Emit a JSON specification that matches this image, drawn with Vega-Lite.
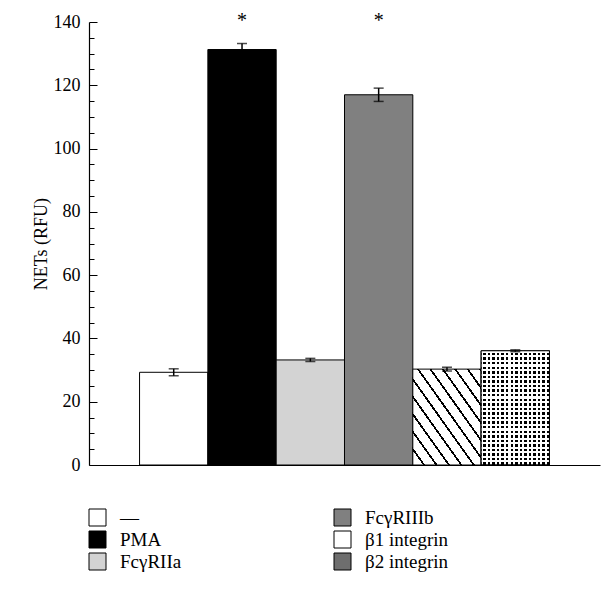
{
  "$schema": "https://vega.github.io/schema/vega-lite/v6.json",
  "autosize": "none",
  "width": 511,
  "height": 443,
  "padding": {"left": 89, "top": 22, "right": 15, "bottom": 131},
  "config": {
    "view": {"stroke": null},
    "font": "Liberation Serif",
    "axis": {"labelFont": "Liberation Serif", "titleFont": "Liberation Serif", "domainColor": "#000000", "tickColor": "#000000", "labelColor": "#000000", "titleColor": "#000000"},
    "legend": {"labelFont": "Liberation Serif", "labelColor": "#000000"}
  },
  "data": {
    "values": [
      {"group": "—", "value": 29.3, "lo": 28.2, "hi": 30.4, "sig": ""},
      {"group": "PMA", "value": 131.3, "lo": 129.4, "hi": 133.2, "sig": "*"},
      {"group": "FcγRIIa", "value": 33.2, "lo": 32.7, "hi": 33.7, "sig": ""},
      {"group": "FcγRIIIb", "value": 117.0, "lo": 114.9, "hi": 119.1, "sig": "*"},
      {"group": "β1 integrin", "value": 30.3, "lo": 29.7, "hi": 30.9, "sig": ""},
      {"group": "β2 integrin", "value": 36.1, "lo": 35.8, "hi": 36.4, "sig": ""}
    ]
  },
  "encoding": {
    "x": {
      "field": "group",
      "type": "nominal",
      "sort": ["—", "PMA", "FcγRIIa", "FcγRIIIb", "β1 integrin", "β2 integrin"],
      "scale": {"paddingInner": 0, "paddingOuter": 0.74},
      "axis": {"title": null, "labels": false, "ticks": false, "domainWidth": 1.2}
    }
  },
  "resolve": {"axis": {"y": "independent"}},
  "layer": [
    {
      "mark": {"type": "bar", "stroke": "#000000", "strokeWidth": 1},
      "encoding": {
        "y": {
          "field": "value",
          "type": "quantitative",
          "scale": {"domain": [0, 140], "nice": false},
          "axis": {
            "orient": "left",
            "title": "NETs (RFU)",
            "titleFontSize": 18,
            "titleFontWeight": "normal",
            "titlePadding": 3,
            "grid": false,
            "values": [0, 20, 40, 60, 80, 100, 120, 140],
            "labelFontSize": 18,
            "labelPadding": 17,
            "tickSize": -8,
            "tickWidth": 1,
            "domainWidth": 1.2
          }
        },
        "fill": {
          "condition": [
            {"test": "datum.group === 'β1 integrin'", "value": {"gradient": "linear", "x1": 0, "y1": 1, "x2": 1, "y2": 0, "stops": [
                {"offset": 0, "color": "#ffffff"}, {"offset": 0.075, "color": "#ffffff"}, {"offset": 0.075, "color": "#000000"}, {"offset": 0.0909, "color": "#000000"},
                {"offset": 0.0909, "color": "#ffffff"}, {"offset": 0.1659, "color": "#ffffff"}, {"offset": 0.1659, "color": "#000000"}, {"offset": 0.1818, "color": "#000000"},
                {"offset": 0.1818, "color": "#ffffff"}, {"offset": 0.2568, "color": "#ffffff"}, {"offset": 0.2568, "color": "#000000"}, {"offset": 0.2727, "color": "#000000"},
                {"offset": 0.2727, "color": "#ffffff"}, {"offset": 0.3477, "color": "#ffffff"}, {"offset": 0.3477, "color": "#000000"}, {"offset": 0.3636, "color": "#000000"},
                {"offset": 0.3636, "color": "#ffffff"}, {"offset": 0.4386, "color": "#ffffff"}, {"offset": 0.4386, "color": "#000000"}, {"offset": 0.4545, "color": "#000000"},
                {"offset": 0.4545, "color": "#ffffff"}, {"offset": 0.5295, "color": "#ffffff"}, {"offset": 0.5295, "color": "#000000"}, {"offset": 0.5455, "color": "#000000"},
                {"offset": 0.5455, "color": "#ffffff"}, {"offset": 0.6205, "color": "#ffffff"}, {"offset": 0.6205, "color": "#000000"}, {"offset": 0.6364, "color": "#000000"},
                {"offset": 0.6364, "color": "#ffffff"}, {"offset": 0.7114, "color": "#ffffff"}, {"offset": 0.7114, "color": "#000000"}, {"offset": 0.7273, "color": "#000000"},
                {"offset": 0.7273, "color": "#ffffff"}, {"offset": 0.8023, "color": "#ffffff"}, {"offset": 0.8023, "color": "#000000"}, {"offset": 0.8182, "color": "#000000"},
                {"offset": 0.8182, "color": "#ffffff"}, {"offset": 0.8932, "color": "#ffffff"}, {"offset": 0.8932, "color": "#000000"}, {"offset": 0.9091, "color": "#000000"},
                {"offset": 0.9091, "color": "#ffffff"}, {"offset": 0.9841, "color": "#ffffff"}, {"offset": 0.9841, "color": "#000000"}, {"offset": 1, "color": "#000000"}
              ]}},
            {"test": "datum.group === 'β2 integrin'", "value": {"gradient": "linear", "x1": 0, "y1": 0, "x2": 1, "y2": 0, "stops": [
                {"offset": 0, "color": "#ffffff"}, {"offset": 0.03, "color": "#ffffff"}, {"offset": 0.03, "color": "#000000"}, {"offset": 0.0667, "color": "#000000"},
                {"offset": 0.0667, "color": "#ffffff"}, {"offset": 0.0967, "color": "#ffffff"}, {"offset": 0.0967, "color": "#000000"}, {"offset": 0.1333, "color": "#000000"},
                {"offset": 0.1333, "color": "#ffffff"}, {"offset": 0.1633, "color": "#ffffff"}, {"offset": 0.1633, "color": "#000000"}, {"offset": 0.2, "color": "#000000"},
                {"offset": 0.2, "color": "#ffffff"}, {"offset": 0.23, "color": "#ffffff"}, {"offset": 0.23, "color": "#000000"}, {"offset": 0.2667, "color": "#000000"},
                {"offset": 0.2667, "color": "#ffffff"}, {"offset": 0.2967, "color": "#ffffff"}, {"offset": 0.2967, "color": "#000000"}, {"offset": 0.3333, "color": "#000000"},
                {"offset": 0.3333, "color": "#ffffff"}, {"offset": 0.3633, "color": "#ffffff"}, {"offset": 0.3633, "color": "#000000"}, {"offset": 0.4, "color": "#000000"},
                {"offset": 0.4, "color": "#ffffff"}, {"offset": 0.43, "color": "#ffffff"}, {"offset": 0.43, "color": "#000000"}, {"offset": 0.4667, "color": "#000000"},
                {"offset": 0.4667, "color": "#ffffff"}, {"offset": 0.4967, "color": "#ffffff"}, {"offset": 0.4967, "color": "#000000"}, {"offset": 0.5333, "color": "#000000"},
                {"offset": 0.5333, "color": "#ffffff"}, {"offset": 0.5633, "color": "#ffffff"}, {"offset": 0.5633, "color": "#000000"}, {"offset": 0.6, "color": "#000000"},
                {"offset": 0.6, "color": "#ffffff"}, {"offset": 0.63, "color": "#ffffff"}, {"offset": 0.63, "color": "#000000"}, {"offset": 0.6667, "color": "#000000"},
                {"offset": 0.6667, "color": "#ffffff"}, {"offset": 0.6967, "color": "#ffffff"}, {"offset": 0.6967, "color": "#000000"}, {"offset": 0.7333, "color": "#000000"},
                {"offset": 0.7333, "color": "#ffffff"}, {"offset": 0.7633, "color": "#ffffff"}, {"offset": 0.7633, "color": "#000000"}, {"offset": 0.8, "color": "#000000"},
                {"offset": 0.8, "color": "#ffffff"}, {"offset": 0.83, "color": "#ffffff"}, {"offset": 0.83, "color": "#000000"}, {"offset": 0.8667, "color": "#000000"},
                {"offset": 0.8667, "color": "#ffffff"}, {"offset": 0.8967, "color": "#ffffff"}, {"offset": 0.8967, "color": "#000000"}, {"offset": 0.9333, "color": "#000000"},
                {"offset": 0.9333, "color": "#ffffff"}, {"offset": 0.9633, "color": "#ffffff"}, {"offset": 0.9633, "color": "#000000"}, {"offset": 1, "color": "#000000"}
              ]}}
          ],
          "field": "group",
          "type": "nominal",
          "scale": {
            "domain": ["—", "PMA", "FcγRIIa", "FcγRIIIb", "β1 integrin", "β2 integrin"],
            "range": ["#ffffff", "#000000", "#d3d3d3", "#808080", "#ffffff", "#6e6e6e"]
          },
          "legend": {
            "title": null,
            "orient": "none",
            "legendX": -1,
            "legendY": 486,
            "columns": 2,
            "symbolType": "square",
            "symbolSize": 289,
            "symbolStrokeColor": "#000000",
            "symbolStrokeWidth": 1,
            "symbolOpacity": 1,
            "labelFontSize": 19,
            "labelOffset": 13,
            "rowPadding": 1,
            "columnPadding": 150,
            "labelLimit": 200,
            "encode": {
              "symbols": {
                "update": {
                  "stroke": {"value": "#000000"},
                  "strokeWidth": {"value": 1},
                  "opacity": {"value": 1}
                }
              }
            }
          }
        }
      }
    },
    {
      "transform": [{"filter": "datum.group === 'β2 integrin'"}],
      "mark": {"type": "bar", "stroke": "#000000", "strokeWidth": 1},
      "encoding": {
        "y": {"field": "value", "type": "quantitative", "axis": null},
        "fill": {"value": {"gradient": "linear", "x1": 0, "y1": 0, "x2": 0, "y2": 1, "stops": [
          {"offset": 0, "color": "#ffffff"}, {"offset": 0.018, "color": "#ffffff"}, {"offset": 0.018, "color": "rgba(255,255,255,0)"}, {"offset": 0.04, "color": "rgba(255,255,255,0)"},
          {"offset": 0.04, "color": "#ffffff"}, {"offset": 0.058, "color": "#ffffff"}, {"offset": 0.058, "color": "rgba(255,255,255,0)"}, {"offset": 0.08, "color": "rgba(255,255,255,0)"},
          {"offset": 0.08, "color": "#ffffff"}, {"offset": 0.098, "color": "#ffffff"}, {"offset": 0.098, "color": "rgba(255,255,255,0)"}, {"offset": 0.12, "color": "rgba(255,255,255,0)"},
          {"offset": 0.12, "color": "#ffffff"}, {"offset": 0.138, "color": "#ffffff"}, {"offset": 0.138, "color": "rgba(255,255,255,0)"}, {"offset": 0.16, "color": "rgba(255,255,255,0)"},
          {"offset": 0.16, "color": "#ffffff"}, {"offset": 0.178, "color": "#ffffff"}, {"offset": 0.178, "color": "rgba(255,255,255,0)"}, {"offset": 0.2, "color": "rgba(255,255,255,0)"},
          {"offset": 0.2, "color": "#ffffff"}, {"offset": 0.218, "color": "#ffffff"}, {"offset": 0.218, "color": "rgba(255,255,255,0)"}, {"offset": 0.24, "color": "rgba(255,255,255,0)"},
          {"offset": 0.24, "color": "#ffffff"}, {"offset": 0.258, "color": "#ffffff"}, {"offset": 0.258, "color": "rgba(255,255,255,0)"}, {"offset": 0.28, "color": "rgba(255,255,255,0)"},
          {"offset": 0.28, "color": "#ffffff"}, {"offset": 0.298, "color": "#ffffff"}, {"offset": 0.298, "color": "rgba(255,255,255,0)"}, {"offset": 0.32, "color": "rgba(255,255,255,0)"},
          {"offset": 0.32, "color": "#ffffff"}, {"offset": 0.338, "color": "#ffffff"}, {"offset": 0.338, "color": "rgba(255,255,255,0)"}, {"offset": 0.36, "color": "rgba(255,255,255,0)"},
          {"offset": 0.36, "color": "#ffffff"}, {"offset": 0.378, "color": "#ffffff"}, {"offset": 0.378, "color": "rgba(255,255,255,0)"}, {"offset": 0.4, "color": "rgba(255,255,255,0)"},
          {"offset": 0.4, "color": "#ffffff"}, {"offset": 0.418, "color": "#ffffff"}, {"offset": 0.418, "color": "rgba(255,255,255,0)"}, {"offset": 0.44, "color": "rgba(255,255,255,0)"},
          {"offset": 0.44, "color": "#ffffff"}, {"offset": 0.458, "color": "#ffffff"}, {"offset": 0.458, "color": "rgba(255,255,255,0)"}, {"offset": 0.48, "color": "rgba(255,255,255,0)"},
          {"offset": 0.48, "color": "#ffffff"}, {"offset": 0.498, "color": "#ffffff"}, {"offset": 0.498, "color": "rgba(255,255,255,0)"}, {"offset": 0.52, "color": "rgba(255,255,255,0)"},
          {"offset": 0.52, "color": "#ffffff"}, {"offset": 0.538, "color": "#ffffff"}, {"offset": 0.538, "color": "rgba(255,255,255,0)"}, {"offset": 0.56, "color": "rgba(255,255,255,0)"},
          {"offset": 0.56, "color": "#ffffff"}, {"offset": 0.578, "color": "#ffffff"}, {"offset": 0.578, "color": "rgba(255,255,255,0)"}, {"offset": 0.6, "color": "rgba(255,255,255,0)"},
          {"offset": 0.6, "color": "#ffffff"}, {"offset": 0.618, "color": "#ffffff"}, {"offset": 0.618, "color": "rgba(255,255,255,0)"}, {"offset": 0.64, "color": "rgba(255,255,255,0)"},
          {"offset": 0.64, "color": "#ffffff"}, {"offset": 0.658, "color": "#ffffff"}, {"offset": 0.658, "color": "rgba(255,255,255,0)"}, {"offset": 0.68, "color": "rgba(255,255,255,0)"},
          {"offset": 0.68, "color": "#ffffff"}, {"offset": 0.698, "color": "#ffffff"}, {"offset": 0.698, "color": "rgba(255,255,255,0)"}, {"offset": 0.72, "color": "rgba(255,255,255,0)"},
          {"offset": 0.72, "color": "#ffffff"}, {"offset": 0.738, "color": "#ffffff"}, {"offset": 0.738, "color": "rgba(255,255,255,0)"}, {"offset": 0.76, "color": "rgba(255,255,255,0)"},
          {"offset": 0.76, "color": "#ffffff"}, {"offset": 0.778, "color": "#ffffff"}, {"offset": 0.778, "color": "rgba(255,255,255,0)"}, {"offset": 0.8, "color": "rgba(255,255,255,0)"},
          {"offset": 0.8, "color": "#ffffff"}, {"offset": 0.818, "color": "#ffffff"}, {"offset": 0.818, "color": "rgba(255,255,255,0)"}, {"offset": 0.84, "color": "rgba(255,255,255,0)"},
          {"offset": 0.84, "color": "#ffffff"}, {"offset": 0.858, "color": "#ffffff"}, {"offset": 0.858, "color": "rgba(255,255,255,0)"}, {"offset": 0.88, "color": "rgba(255,255,255,0)"},
          {"offset": 0.88, "color": "#ffffff"}, {"offset": 0.898, "color": "#ffffff"}, {"offset": 0.898, "color": "rgba(255,255,255,0)"}, {"offset": 0.92, "color": "rgba(255,255,255,0)"},
          {"offset": 0.92, "color": "#ffffff"}, {"offset": 0.938, "color": "#ffffff"}, {"offset": 0.938, "color": "rgba(255,255,255,0)"}, {"offset": 0.96, "color": "rgba(255,255,255,0)"},
          {"offset": 0.96, "color": "#ffffff"}, {"offset": 0.978, "color": "#ffffff"}, {"offset": 0.978, "color": "rgba(255,255,255,0)"}, {"offset": 1, "color": "rgba(255,255,255,0)"}
        ]}}
      }
    },
    {
      "mark": {"type": "errorbar", "ticks": {"size": 10, "thickness": 1.5, "color": "#000000"}, "rule": {"color": "#000000", "strokeWidth": 1.5}},
      "encoding": {
        "y": {
          "field": "lo",
          "type": "quantitative",
          "axis": {
            "orient": "left",
            "title": null,
            "labels": false,
            "domain": false,
            "grid": false,
            "values": [5, 10, 15, 25, 30, 35, 45, 50, 55, 65, 70, 75, 85, 90, 95, 105, 110, 115, 125, 130, 135],
            "tickSize": -5,
            "tickWidth": 1
          }
        },
        "y2": {"field": "hi"}
      }
    },
    {
      "transform": [{"filter": "datum.sig !== ''"}],
      "mark": {"type": "text", "fontSize": 20, "font": "Liberation Serif", "color": "#000000", "baseline": "middle", "dy": -1},
      "encoding": {
        "y": {"datum": 140, "axis": null},
        "text": {"field": "sig", "type": "nominal"}
      }
    }
  ]
}
